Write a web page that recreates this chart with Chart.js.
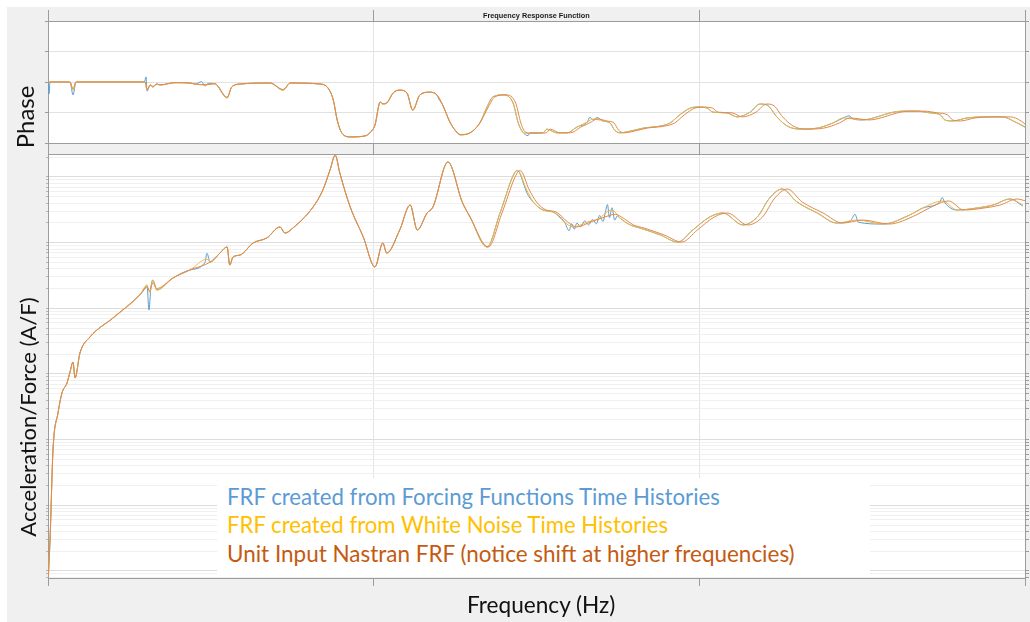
<!DOCTYPE html>
<html lang="en">
<head>
<meta charset="utf-8">
<title>Frequency Response Function</title>
<script src="https://cdn.jsdelivr.net/npm/chart.js@4.4.1/dist/chart.umd.min.js"></script>
<style>
  html, body { margin: 0; padding: 0; width: 1030px; height: 622px; overflow: hidden; background: #ffffff; }
  #figure { position: absolute; left: 7px; top: 7px; width: 1023px; height: 615px; background: #f0f0f0; }
  canvas { position: absolute; left: 0; top: 0; }
  .txt { position: absolute; left: 0; top: 0; white-space: nowrap; line-height: 1; font-family: Lato, "Open Sans", sans-serif; font-size: 22px; color: #111111; }
  #plotTitle { font-family: "Liberation Sans", Arial, sans-serif; font-weight: bold; color: #1a1a1a; }
  #keyBox { position: absolute; left: 217px; top: 478px; width: 653px; height: 99px; background: #ffffff; }
  #key1 { color: #5b9bd5; }
  #key2 { color: #ffc000; }
  #key3 { color: #c55a11; }
</style>
</head>
<body>
<div id="figure"></div>
<canvas id="phaseChart" width="1030" height="622"></canvas>
<canvas id="magChart" width="1030" height="622"></canvas>
<div id="keyBox"></div>
<div class="txt" id="plotTitle">Frequency Response Function</div>
<div class="txt" id="phaseTitle">Phase</div>
<div class="txt" id="magTitle">Acceleration/Force (A/F)</div>
<div class="txt" id="freqTitle">Frequency (Hz)</div>
<div class="txt" id="key1">FRF created from Forcing Functions Time Histories</div>
<div class="txt" id="key2">FRF created from White Noise Time Histories</div>
<div class="txt" id="key3">Unit Input Nastran FRF (notice shift at higher frequencies)</div>

<script>
// ---- Magnitude (A/F) ----
// FRF from forcing-function time histories
const ffMagFreq = [0.5, 3.1, 7.7, 15.4, 21.5, 29.2, 33.8, 38.4, 41.5, 49.1, 64.5, 99.8, 141, 148, 152, 155, 158, 161, 167, 192, 218, 241, 244, 249, 264, 275, 279, 284, 295, 315, 336, 356, 364, 376, 407, 422, 433, 441, 448, 464, 484, 502, 514, 520, 540, 556, 567, 582, 591, 614, 636, 648, 674, 694, 717, 721, 731, 735, 745, 760, 775, 793, 800, 804, 808, 812, 818, 824, 830, 836, 842, 847, 852, 856, 859, 862, 866, 870, 874, 878, 894, 909, 940, 967, 990, 1016, 1036, 1067, 1089, 1108, 1127, 1150, 1181, 1211, 1232, 1239, 1244, 1282, 1323, 1343, 1369, 1373, 1377, 1396, 1426, 1451, 1477, 1497];
const ffMag = [8.0e-5, 2.96e-4, 6.97e-3, 0.0255, 0.0514, 0.073, 0.107, 0.152, 0.0869, 0.209, 0.366, 0.713, 1.60, 1.95, 2.26, 0.94, 2.10, 2.70, 1.90, 2.90, 3.84, 5.0, 6.9, 5.07, 6.95, 8.59, 4.57, 6.04, 6.49, 9.88, 11.8, 17.3, 14.0, 16.7, 34.9, 63.4, 128, 216, 115, 34.9, 12.2, 4.26, 9.88, 6.95, 15.6, 37.4, 15.6, 28.3, 34.9, 169, 41.6, 24.6, 8.59, 28.3, 119, 125, 75, 58, 41.6, 31.4, 29.3, 20.6, 15.2, 19.5, 16.0, 19.8, 17.5, 21.5, 18.6, 22.5, 19.4, 26, 21, 30, 38, 24, 34, 22, 25.5, 23.7, 18.6, 16.7, 13.1, 10.2, 15.6, 24.6, 28.3, 18.6, 24.6, 47.9, 65.6, 41.6, 28.3, 19.9, 21.5, 27, 20.5, 19.2, 26.4, 33.7, 41.5, 48.5, 40.5, 31.4, 33.7, 37.4, 46.2, 36.0];

// FRF from white-noise time histories
const wnMagFreq = [0.5, 3.1, 7.7, 15.4, 21.5, 29.2, 33.8, 38.4, 41.5, 49.1, 64.5, 99.8, 141, 152, 156, 161, 167, 192, 218, 244, 249, 264, 275, 279, 284, 295, 315, 336, 356, 364, 376, 407, 422, 433, 441, 448, 464, 484, 502, 514, 520, 540, 556, 567, 582, 591, 614, 636, 648, 674, 694, 717, 721, 735, 745, 760, 775, 793, 806, 828, 847, 858, 866, 878, 894, 909, 940, 967, 990, 1016, 1036, 1067, 1089, 1108, 1127, 1150, 1181, 1211, 1242, 1282, 1323, 1343, 1373, 1396, 1426, 1451, 1477, 1497];
const wnMag = [8.0e-5, 2.96e-4, 6.97e-3, 0.0255, 0.0514, 0.073, 0.107, 0.152, 0.0869, 0.209, 0.366, 0.713, 1.60, 2.26, 1.75, 2.70, 1.90, 2.90, 3.84, 5.6, 5.07, 6.95, 8.59, 4.57, 6.04, 6.49, 9.88, 11.8, 17.3, 14.0, 16.7, 34.9, 63.4, 128, 216, 115, 34.9, 12.2, 4.26, 9.88, 6.95, 15.6, 37.4, 15.6, 28.3, 34.9, 169, 41.6, 24.6, 8.59, 28.3, 119, 125, 63.4, 41.6, 31.4, 29.3, 20.6, 17.3, 20.6, 23.7, 29.3, 31.4, 23.7, 18.6, 16.7, 13.1, 10.2, 15.6, 24.6, 28.3, 18.6, 24.6, 47.9, 65.6, 41.6, 28.3, 19.9, 22.1, 19.2, 26.4, 33.7, 43.1, 31.4, 33.7, 37.4, 46.2, 37.4];

// Unit-input Nastran FRF
const nasMagFreq = [0.5, 3.1, 7.7, 15.4, 21.5, 29.2, 33.8, 38.4, 41.5, 49.1, 64.5, 99.8, 141, 152, 156, 161, 167, 192, 218, 249, 264, 275, 279, 284, 295, 315, 336, 356, 364, 376, 407, 422, 433, 441, 448, 464, 484, 502, 514, 520, 540, 556, 567, 582, 591, 614, 636, 648, 676, 697, 721, 725, 739, 750, 765, 780, 798, 811, 833, 852, 871, 883, 899, 915, 946, 973, 997, 1023, 1043, 1074, 1097, 1116, 1135, 1158, 1190, 1220, 1251, 1291, 1333, 1353, 1383, 1406, 1437, 1462, 1488, 1500];
const nasMag = [8.0e-5, 2.96e-4, 6.97e-3, 0.0255, 0.0514, 0.073, 0.107, 0.152, 0.0869, 0.209, 0.366, 0.713, 1.60, 2.1, 1.85, 2.45, 2.0, 2.90, 3.84, 5.07, 6.95, 8.59, 4.57, 6.04, 6.49, 9.88, 11.8, 17.3, 14.0, 16.7, 34.9, 63.4, 128, 216, 115, 34.9, 12.2, 4.26, 9.88, 6.95, 15.6, 37.4, 15.6, 28.3, 34.9, 169, 41.6, 24.6, 8.59, 28.3, 119, 125, 63.4, 41.6, 31.4, 29.3, 20.6, 17.3, 20.6, 24.0, 27.0, 23.7, 18.6, 16.7, 13.1, 10.2, 15.6, 24.6, 28.3, 18.6, 24.6, 47.9, 65.6, 41.6, 28.3, 19.9, 22.1, 19.2, 26.4, 33.7, 43.1, 31.4, 33.7, 37.4, 46.2, 43.5];

// ---- Phase (deg) ----
const ffPhaseFreq = [0.5, 1.5, 3.1, 33.8, 38.4, 43, 148, 150.5, 152, 157, 161, 167, 172, 195, 218, 226, 236, 241, 246, 256, 275, 282, 295, 341, 361, 372, 418, 430, 438, 444, 451, 464, 487, 494, 502, 510, 514, 520, 530, 540, 551, 560, 571, 586, 597, 600, 606, 617, 625, 633, 648, 663, 674, 683, 699, 714, 722, 729, 737, 740, 760, 766, 781, 797, 812, 828, 832, 837, 843, 852, 863, 870, 878, 894, 914, 940, 955, 970, 986, 998, 1012, 1021, 1042, 1058, 1078, 1093, 1104, 1119, 1135, 1155, 1181, 1205, 1221, 1230, 1236, 1251, 1273, 1293, 1313, 1334, 1354, 1370, 1377, 1389, 1411, 1436, 1466, 1482, 1500];
const ffPhase = [0, -35, 0, 0, -38, 0, 0, 15, -27, -9, -15, -6, -9, -2, -3, -6, 1, -12, -4, -5, -47, -15, -6, -3, -24, -3, -6, -18, -53, -112, -150, -162, -159, -150, -127, -59, -65, -62, -32, -24, -32, -83, -38, -30, -38, -50, -68, -118, -142, -156, -150, -121, -74, -44, -38, -62, -121, -148, -158, -150, -150, -139, -150, -150, -133, -118, -104, -112, -105, -115, -121, -142, -150, -145, -136, -130, -121, -97, -77, -74, -77, -89, -91, -103, -89, -65, -68, -103, -130, -139, -136, -121, -106, -100, -109, -112, -103, -91, -86, -86, -91, -97, -112, -115, -106, -103, -103, -115, -133];

const wnPhaseFreq = [0.5, 3.1, 33.8, 38.4, 43, 149, 152, 157, 161, 167, 172, 195, 218, 226, 241, 256, 275, 282, 295, 341, 361, 372, 418, 430, 438, 444, 451, 464, 487, 494, 502, 510, 514, 520, 530, 540, 551, 560, 571, 586, 597, 606, 617, 625, 633, 648, 663, 674, 683, 699, 714, 722, 729, 740, 760, 766, 781, 797, 812, 828, 837, 852, 863, 870, 878, 894, 914, 940, 955, 970, 986, 998, 1012, 1021, 1042, 1058, 1078, 1093, 1104, 1119, 1135, 1155, 1181, 1205, 1221, 1236, 1251, 1273, 1293, 1313, 1334, 1354, 1370, 1377, 1389, 1411, 1436, 1466, 1482, 1500];
const wnPhase = [0, 0, 0, -24, 0, 0, -24, -9, -15, -6, -9, -2, -3, -6, -9, -5, -47, -15, -6, -3, -24, -3, -6, -18, -53, -112, -150, -162, -159, -150, -127, -59, -65, -62, -32, -24, -32, -83, -38, -30, -38, -68, -118, -142, -156, -150, -121, -74, -44, -38, -62, -121, -148, -152, -150, -139, -150, -150, -133, -118, -109, -115, -121, -142, -150, -145, -136, -130, -121, -97, -77, -74, -77, -89, -91, -103, -89, -65, -68, -103, -130, -139, -136, -121, -106, -109, -112, -103, -91, -86, -86, -91, -97, -112, -115, -106, -103, -103, -115, -133];

const nasPhaseFreq = [0.5, 33.8, 38.4, 43, 149, 152, 157, 161, 167, 172, 195, 218, 226, 241, 256, 275, 282, 295, 341, 361, 372, 418, 430, 438, 444, 451, 464, 487, 494, 502, 510, 514, 520, 530, 540, 551, 560, 571, 586, 597, 606, 617, 625, 633, 648, 663, 676, 686, 703, 718, 726, 733, 744, 765, 771, 786, 802, 818, 834, 843, 858, 869, 876, 884, 900, 920, 947, 962, 977, 993, 1006, 1020, 1029, 1050, 1066, 1087, 1103, 1113, 1128, 1144, 1164, 1191, 1215, 1231, 1246, 1261, 1284, 1304, 1324, 1345, 1365, 1381, 1389, 1401, 1423, 1448, 1478, 1494, 1500];
const nasPhase = [0, 0, -20, 0, 0, -22, -9, -13, -6, -8, -2, -3, -6, -8, -5, -45, -15, -6, -3, -22, -3, -6, -18, -53, -112, -150, -162, -159, -150, -127, -59, -64, -62, -32, -24, -32, -83, -38, -30, -38, -68, -118, -142, -155, -150, -121, -74, -44, -38, -62, -121, -148, -151, -150, -139, -150, -150, -133, -118, -109, -115, -121, -142, -150, -145, -136, -130, -121, -97, -77, -74, -77, -89, -91, -103, -89, -65, -68, -103, -130, -139, -136, -121, -106, -109, -112, -103, -91, -86, -86, -91, -97, -112, -115, -106, -103, -103, -115, -124];

// ---- Axis ranges and tick positions ----
const freqRange = [0, 1500];
const freqStep = 500;
const phaseRange = [-180, 180];
const phaseStep = 90;
const magRange = [7.8e-5, 224];
const magDecades = [1e-5, 1e-4, 1e-3, 1e-2, 1e-1, 1, 10, 100];

const seriesStyle = {
  forcing: '#5d9cd3',
  noise:   '#f2b93b',
  nastran: '#e3894c'
};
const frameColor = '#9c9c9c';

function points(xs, ys) { return xs.map((x, i) => ({ x: x, y: ys[i] })); }

function line(label, xs, ys, color, order) {
  return {
    label: label, data: points(xs, ys), borderColor: color, backgroundColor: color,
    borderWidth: 1, pointRadius: 0, cubicInterpolationMode: 'monotone', order: order
  };
}

// White plot area behind the grid
const plotBackground = {
  id: 'plotBackground',
  beforeDraw(chart) {
    const { ctx, chartArea: a } = chart;
    ctx.save();
    ctx.fillStyle = '#ffffff';
    ctx.fillRect(a.left, a.top, a.right - a.left, a.bottom - a.top);
    ctx.restore();
  }
};

const zeroHeight = s => { s.height = 0; };
const zeroWidth = s => { s.width = 0; };

function freqAxis(position, tickLength, onArea, drawTicks) {
  return {
    type: 'linear', position: position, min: freqRange[0], max: freqRange[1],
    ticks: { stepSize: freqStep, display: false },
    grid: { color: '#e4e4e4', tickColor: frameColor, tickLength: tickLength, drawOnChartArea: onArea, drawTicks: drawTicks },
    border: { color: frameColor },
    afterFit: zeroHeight
  };
}

const common = {
  responsive: false, animation: false, events: [], devicePixelRatio: 1,
  plugins: { legend: { display: false }, tooltip: { enabled: false }, title: { display: false } }
};

// Phase panel
new Chart(document.getElementById('phaseChart'), {
  type: 'line',
  data: { datasets: [
    line('Unit Input Nastran FRF', nasPhaseFreq, nasPhase, seriesStyle.nastran, 0),
    line('FRF created from White Noise Time Histories', wnPhaseFreq, wnPhase, seriesStyle.noise, 1),
    line('FRF created from Forcing Functions Time Histories', ffPhaseFreq, ffPhase, seriesStyle.forcing, 2)
  ] },
  options: Object.assign({}, common, {
    layout: { padding: { left: 48, top: 21, right: 5, bottom: 479 } },
    scales: {
      x: freqAxis('bottom', 11, true, true),
      xTop: freqAxis('top', 11, false, true),
      y: {
        min: phaseRange[0], max: phaseRange[1],
        ticks: { stepSize: phaseStep, display: false },
        grid: { color: '#e2e2e2', tickColor: frameColor, tickLength: 3 },
        border: { color: frameColor }, afterFit: zeroWidth
      },
      yRight: {
        position: 'right', min: phaseRange[0], max: phaseRange[1],
        ticks: { stepSize: phaseStep, display: false },
        grid: { drawOnChartArea: false, tickColor: frameColor, tickLength: 4 },
        border: { color: frameColor }, afterFit: zeroWidth
      }
    }
  }),
  plugins: [plotBackground]
});

// Log grid: decades plus 2..9 subdivisions
function logTicks(scale) {
  const list = [];
  const lo = magRange[0], hi = magRange[1];
  magDecades.forEach(d => {
    for (let m = 1; m <= 9; m++) {
      const v = d * m;
      if (v >= lo && v <= hi) list.push({ value: v, major: m === 1 });
    }
  });
  scale.ticks = list;
}
const magGridColor = c => (c.tick && c.tick.major) ? '#dcdcdc' : '#f0f0f0';

// Magnitude panel
new Chart(document.getElementById('magChart'), {
  type: 'line',
  data: { datasets: [
    line('Unit Input Nastran FRF', nasMagFreq, nasMag, seriesStyle.nastran, 0),
    line('FRF created from White Noise Time Histories', wnMagFreq, wnMag, seriesStyle.noise, 1),
    line('FRF created from Forcing Functions Time Histories', ffMagFreq, ffMag, seriesStyle.forcing, 2)
  ] },
  options: Object.assign({}, common, {
    layout: { padding: { left: 48, top: 154, right: 5, bottom: 44 } },
    scales: {
      x: freqAxis('bottom', 8, true, true),
      xTop: freqAxis('top', 0, false, false),
      y: {
        type: 'logarithmic', min: magRange[0], max: magRange[1],
        ticks: { display: false }, afterBuildTicks: logTicks,
        grid: { color: magGridColor, tickColor: '#b5b5b5', tickLength: 2 },
        border: { color: frameColor }, afterFit: zeroWidth
      },
      yRight: {
        type: 'logarithmic', position: 'right', min: magRange[0], max: magRange[1],
        ticks: { display: false }, afterBuildTicks: logTicks,
        grid: { drawOnChartArea: false, tickColor: frameColor, tickLength: 4 },
        border: { color: frameColor }, afterFit: zeroWidth
      }
    }
  }),
  plugins: [plotBackground]
});

// ---- Text placement ----
function fitText(el, width) {
  const start = 22;
  el.style.fontSize = start + 'px';
  el.style.fontSize = (start * width / el.offsetWidth).toFixed(2) + 'px';
}
function baselineOffset(el) {
  const probe = document.createElement('span');
  probe.style.cssText = 'display:inline-block;width:0;height:0;vertical-align:baseline;';
  el.appendChild(probe);
  const b = probe.offsetTop;
  el.removeChild(probe);
  return b;
}
function placeFlat(id, x, baseline, width, align) {
  const el = document.getElementById(id);
  fitText(el, width);
  const b = baselineOffset(el);
  el.style.left = (align === 'center' ? x - el.offsetWidth / 2 : x) + 'px';
  el.style.top = (baseline - b) + 'px';
}
function placeVertical(id, baselineX, centerY, width) {
  const el = document.getElementById(id);
  fitText(el, width);
  const b = baselineOffset(el);
  const w = el.offsetWidth, h = el.offsetHeight;
  const cx = baselineX - (b - h / 2);
  el.style.left = (cx - w / 2) + 'px';
  el.style.top = (centerY - h / 2) + 'px';
  el.style.transformOrigin = '50% 50%';
  el.style.transform = 'rotate(-90deg)';
}

placeFlat('plotTitle', 536.5, 17.5, 107, 'center');
placeVertical('phaseTitle', 34, 116.5, 63);
placeVertical('magTitle', 35, 417, 240);
placeFlat('freqTitle', 541, 613, 148, 'center');
placeFlat('key1', 227, 505, 493, 'left');
placeFlat('key2', 227, 533, 441, 'left');
placeFlat('key3', 227, 562, 568, 'left');
</script>
</body>
</html>
